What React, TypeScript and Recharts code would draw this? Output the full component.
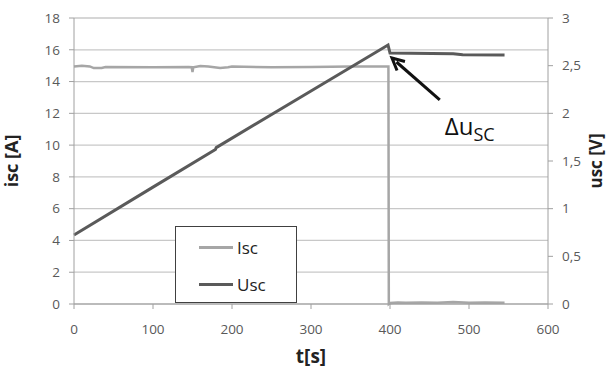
import React from 'react';
import { ComposedChart, Line, XAxis, YAxis, CartesianGrid, Legend, ReferenceLine } from 'recharts';

const xTicks = [0, 100, 200, 300, 400, 500, 600];
const leftTicks = [0, 2, 4, 6, 8, 10, 12, 14, 16, 18];
const rightTicks = [0, 0.5, 1, 1.5, 2, 2.5, 3];

const iscT = [0, 10, 20, 25, 35, 40, 100, 145, 149, 150, 151, 160, 170, 185, 195, 200, 250, 300, 350, 398, 398.5, 400, 410, 420, 440, 460, 480, 500, 520, 545];
const iscV = [14.95, 15.0, 14.95, 14.85, 14.85, 14.92, 14.9, 14.92, 14.9, 14.6, 14.9, 14.98, 14.95, 14.85, 14.9, 14.95, 14.9, 14.92, 14.95, 14.95, 0, 0.06, 0.1, 0.08, 0.1, 0.08, 0.12, 0.08, 0.1, 0.08];

const uscT = [0, 100, 179, 180, 300, 397.5, 400, 480, 492, 545];
const uscV = [0.724, 1.226, 1.62, 1.64, 2.235, 2.717, 2.633, 2.626, 2.615, 2.612];

const iscData = iscT.map((t, i) => ({ t, isc: iscV[i] }));
const uscData = uscT.map((t, i) => ({ t, usc: uscV[i] }));

const arrowTail = { t: 463, u: 2.14 };
const arrowHead = { t: 402.5, u: 2.58 };

const FONT = '"Open Sans", sans-serif';
const ISC_COLOR = '#a6a6a6';
const USC_COLOR = '#5a5a5a';

const ArrowShape = (props: any) => {
  const { x1, y1, x2, y2 } = props;
  if ([x1, y1, x2, y2].some((v) => typeof v !== 'number' || isNaN(v))) return null;
  const dx = x2 - x1;
  const dy = y2 - y1;
  const len = Math.sqrt(dx * dx + dy * dy);
  const ux = dx / len;
  const uy = dy / len;
  const hl = 12;
  const hw = 6;
  const bx = x2 - ux * hl;
  const by = y2 - uy * hl;
  const p1 = `${x2},${y2}`;
  const p2 = `${bx - uy * hw},${by + ux * hw}`;
  const p3 = `${bx + uy * hw},${by - ux * hw}`;
  return (
    <g>
      <line x1={x1} y1={y1} x2={x2 - ux * 6} y2={y2 - uy * 6} stroke="#111" strokeWidth={3} />
      <polyline points={`${p2} ${p1} ${p3}`} fill="none" stroke="#111" strokeWidth={3} strokeLinejoin="miter" />
      <text x={x1 + 5} y={y1 + 35} fontFamily={FONT} fontSize={24} fill="#111">
        <tspan>Δu</tspan>
        <tspan dy={6} fontSize={18}>SC</tspan>
      </text>
    </g>
  );
};

const LegendBox = (props: any) => {
  const payload = props.payload || [];
  return (
    <div
      style={{
        boxSizing: 'border-box',
        width: 122,
        height: 77,
        border: '1.5px solid #404040',
        background: '#fff',
        position: 'relative',
        fontFamily: FONT,
      }}
    >
      {payload.map((p: any, i: number) => (
        <div
          key={i}
          style={{
            position: 'absolute',
            left: 23,
            top: i === 0 ? 8 : 45,
            height: 24,
            display: 'flex',
            alignItems: 'center',
          }}
        >
          <div style={{ width: 34, height: 3, background: p.color }} />
          <span style={{ marginLeft: 4, fontSize: 17, color: '#222' }}>{p.value}</span>
        </div>
      ))}
    </div>
  );
};

export default function App() {
  return (
    <div style={{ position: 'absolute', left: 0, top: 0, width: 609, height: 371, background: '#fff' }}>
      <ComposedChart width={609} height={371} margin={{ top: 18, right: 0, bottom: 0, left: 0 }}>
        <CartesianGrid horizontal vertical={false} stroke="#c8c8c8" strokeWidth={1.3} yAxisId="left" />
        <XAxis
          dataKey="t"
          type="number"
          domain={[0, 600]}
          ticks={xTicks}
          allowDuplicatedCategory={false}
          height={67}
          stroke="#a0a0a0"
          tickSize={5}
          tickMargin={15}
          tick={{ fill: '#595959', fontSize: 13.5, fontFamily: FONT }}
          label={{ value: 't[s]', position: 'insideBottom', offset: 8, style: { fontFamily: FONT, fontWeight: 'bold', fontSize: 19, fill: '#222' } }}
        />
        <YAxis
          yAxisId="left"
          domain={[0, 18]}
          ticks={leftTicks}
          width={74}
          stroke="#a0a0a0"
          tickSize={5}
          tickMargin={9}
          tick={{ fill: '#595959', fontSize: 13.5, fontFamily: FONT }}
          label={{ value: 'isc [A]', angle: -90, position: 'insideLeft', offset: 12, style: { textAnchor: 'middle', fontFamily: FONT, fontWeight: 'bold', fontSize: 18, fill: '#222' } }}
        />
        <YAxis
          yAxisId="right"
          orientation="right"
          domain={[0, 3]}
          ticks={rightTicks}
          width={61}
          stroke="#a0a0a0"
          tickSize={5}
          tickMargin={9}
          tickFormatter={(v: number) => String(v).replace('.', ',')}
          tick={{ fill: '#595959', fontSize: 13.5, fontFamily: FONT }}
          label={{ value: 'usc [V]', angle: -90, position: 'insideRight', offset: 13, style: { textAnchor: 'middle', fontFamily: FONT, fontWeight: 'bold', fontSize: 17, fill: '#222' } }}
        />
        <Line
          yAxisId="left"
          data={iscData}
          dataKey="isc"
          name="Isc"
          type="linear"
          stroke={ISC_COLOR}
          strokeWidth={2.5}
          dot={false}
          activeDot={false}
          isAnimationActive={false}
        />
        <Line
          yAxisId="right"
          data={uscData}
          dataKey="usc"
          name="Usc"
          type="linear"
          stroke={USC_COLOR}
          strokeWidth={3}
          dot={false}
          activeDot={false}
          isAnimationActive={false}
        />
        <ReferenceLine
          yAxisId="right"
          segment={[
            { x: arrowTail.t, y: arrowTail.u },
            { x: arrowHead.t, y: arrowHead.u },
          ]}
          shape={ArrowShape}
          ifOverflow="visible"
        />
        <Legend
          layout="vertical"
          align="center"
          verticalAlign="middle"
          content={LegendBox}
          wrapperStyle={{ left: 175, top: 226, width: 122, height: 77 }}
        />
      </ComposedChart>
    </div>
  );
}
